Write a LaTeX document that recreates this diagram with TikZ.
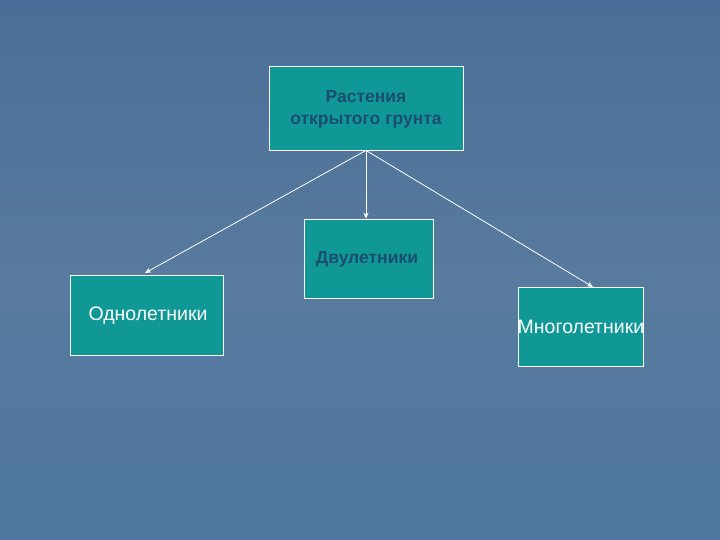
\documentclass[tikz,border=0pt]{standalone}
\usepackage{fontspec}
\setmainfont{Liberation Sans}
\usetikzlibrary{arrows.meta}
\definecolor{bgtop}{HTML}{4A6E97}
\definecolor{bgmid}{HTML}{587A9E}
\definecolor{bgbot}{HTML}{4F77A0}
\definecolor{boxfill}{HTML}{0F9896}
\definecolor{darktext}{HTML}{1B4E6C}
\begin{document}
\begin{tikzpicture}[x=1pt,y=-1pt,
  boxstyle/.style={draw=white, line width=0.8pt, fill=boxfill, inner sep=0pt},
  conn/.style={draw=white, line width=0.8pt, -{Stealth[length=6pt,width=5pt]}},
  darklbl/.style={text=darktext, align=center, font=\bfseries\fontsize{17.5}{22}\selectfont},
  whitelbl/.style={text=white, align=center, font=\fontsize{19.5}{23}\selectfont}]
\shade[top color=bgtop, bottom color=bgbot, middle color=bgmid] (0,0) rectangle (720,540);
\useasboundingbox (0,0) rectangle (720,540);
% boxes
\node[boxstyle, minimum width=194pt, minimum height=84pt] (top) at (366,108) {};
\node[darklbl] (toplbl) at (366,109) {Растения\\открытого грунта};
\node[boxstyle, minimum width=129pt, minimum height=79pt] (mid) at (368.5,258.5) {};
\node[darklbl] (midlbl) at (367,259) {Двулетники};
\node[boxstyle, minimum width=153pt, minimum height=80pt] (left) at (146.5,315) {};
\node[whitelbl] (leftlbl) at (148,316) {Однолетники};
\node[boxstyle, minimum width=125pt, minimum height=79pt] (right) at (580.5,326.5) {};
\node[whitelbl] (rightlbl) at (581,327) {Многолетники};
% connectors
\coordinate (src) at (top.south);
\coordinate (lt) at (145,273);
\coordinate (rt) at (593,287);
\draw[conn] (src) -- (lt);
\draw[conn] (src) -- (src |- mid.north);
\draw[conn] (src) -- (rt);
\end{tikzpicture}
\end{document}
